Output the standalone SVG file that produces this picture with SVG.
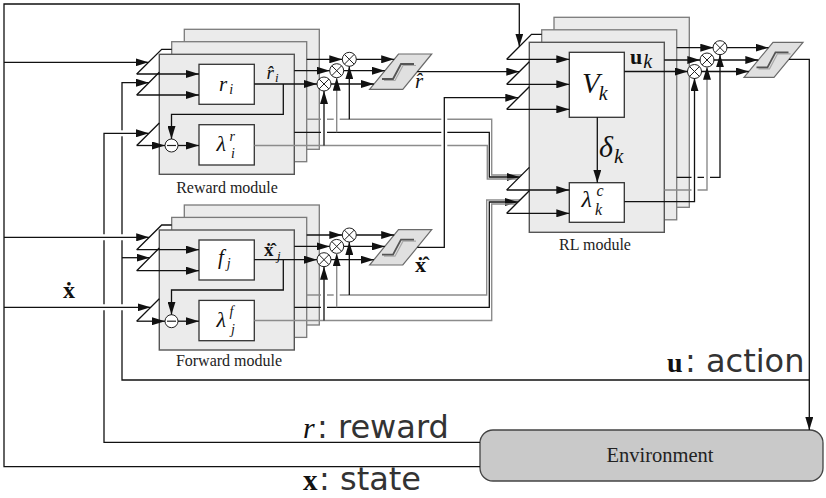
<svg xmlns="http://www.w3.org/2000/svg" width="826" height="498" viewBox="0 0 826 498">
<defs>
<style>
.k{fill:none;stroke:#111;stroke-width:1.3}
.g{fill:none;stroke:#8c8c8c;stroke-width:1.4}
.a{marker-end:url(#ah)}
.h{fill:none;stroke:#fff;stroke-width:6}
.bk{fill:#ebebeb;stroke:#7a7a7a;stroke-width:1.3}
.fr{fill:#ebebeb;stroke:#555;stroke-width:1.4}
.ib{fill:#fff;stroke:#333;stroke-width:1.3}
.sg{fill:#e0e0e0;stroke:#6a6a6a;stroke-width:1.2}
.st{fill:none;stroke:#555;stroke-width:1.8}
.st2{fill:none;stroke:#a8a8a8;stroke-width:1.2}
.m{font-family:"Liberation Serif","DejaVu Serif",serif;font-style:italic;fill:#111}
.mb{font-family:"Liberation Serif","DejaVu Serif",serif;font-weight:bold;fill:#111}
.lbl{font-family:"Liberation Serif","DejaVu Serif",serif;font-size:16px;fill:#222;text-anchor:middle}
.sans{font-family:"DejaVu Sans","Liberation Sans",sans-serif;font-size:32px;fill:#333}
</style>
<marker id="ah" markerWidth="13" markerHeight="8" refX="13" refY="4" orient="auto" markerUnits="userSpaceOnUse"><path d="M0,0L13,4L0,8z" fill="#111"/></marker>
<g id="mul"><circle r="7" fill="#fff" stroke="#222" stroke-width="1"/><path d="M-4.9,-4.9L4.9,4.9M-4.9,4.9L4.9,-4.9" stroke="#222" stroke-width="1"/></g>
<g id="sub"><circle r="6.5" fill="#fff" stroke="#222" stroke-width="1"/><path d="M-4.5,0H4.5" stroke="#222" stroke-width="1.2"/></g>
</defs>
<rect width="826" height="498" fill="#fff"/>

<!-- Reward module -->
<g id="reward-module">
<rect class="bk" x="184.3" y="29.3" width="135" height="120"/>
<rect class="bk" x="171.7" y="41.7" width="135" height="120"/>
<rect class="fr" x="159.3" y="54.3" width="135" height="120"/>
<text class="lbl" x="227" y="192.5">Reward module</text>
<text class="m" x="266.5" y="78.5" font-size="19">r̂<tspan font-size="13" dy="3.5" dx="1">i</tspan></text>
</g>
<g id="r-i"><rect class="ib" x="199" y="64.3" width="55.3" height="40"/><text class="m" x="219" y="90.5" font-size="21">r<tspan font-size="14" dy="3" dx="2">i</tspan></text></g>
<g id="lambda-r"><rect class="ib" x="199" y="124.7" width="55.3" height="40.3"/><text class="m" x="216.5" y="150.5" font-size="22">λ</text><text class="m" x="229.5" y="141" font-size="14">r</text><text class="m" x="231" y="158" font-size="14">i</text></g>
<g id="sub-r"><use href="#sub" x="171.5" y="145.5"/></g>
<g id="mul-r"><use href="#mul" x="349.3" y="59.3"/><use href="#mul" x="336.7" y="70.7"/><use href="#mul" x="324" y="84"/></g>
<g id="sum-r"><polygon class="sg" points="398.5,54 431.7,54 402.8,89.3 369.6,89.3"/><polyline class="st2" points="384,80.5 395,80.5 403,65.5 416,65.5"/><polyline class="st" points="382,79 393,79 401,64 414,64"/><text class="m" x="415" y="88" font-size="21">r̂</text></g>

<!-- Forward module -->
<g id="forward-module">
<rect class="bk" x="184.3" y="205" width="135" height="120"/>
<rect class="bk" x="171.7" y="217.4" width="135" height="120"/>
<rect class="fr" x="159.3" y="230" width="135" height="120"/>
<text class="lbl" x="229" y="365.5">Forward module</text>
<text class="mb" x="264" y="256" font-size="19">ẋ̂</text><text class="m" x="277" y="260" font-size="13">j</text>
</g>
<g id="f-j"><rect class="ib" x="199" y="240" width="55.3" height="40"/><text class="m" x="218" y="264" font-size="21">f<tspan font-size="14" dy="4" dx="3">j</tspan></text></g>
<g id="lambda-f"><rect class="ib" x="199" y="300.4" width="55.3" height="40.3"/><text class="m" x="216.5" y="326.5" font-size="22">λ</text><text class="m" x="229.5" y="316" font-size="14">f</text><text class="m" x="231" y="334" font-size="14">j</text></g>
<g id="sub-f"><use href="#sub" x="171.5" y="321.2"/></g>
<g id="mul-f"><use href="#mul" x="349.3" y="235"/><use href="#mul" x="336.7" y="246.4"/><use href="#mul" x="324" y="259.7"/></g>
<g id="sum-f"><polygon class="sg" points="398.5,229.7 431.7,229.7 402.8,265 369.6,265"/><polyline class="st2" points="384,256.2 395,256.2 403,241.2 416,241.2"/><polyline class="st" points="382,254.7 393,254.7 401,239.7 414,239.7"/><text class="mb" x="415" y="272" font-size="22">ẋ̂</text></g>

<!-- RL module -->
<g id="rl-module">
<rect class="bk" x="554" y="17.3" width="135.3" height="190"/>
<rect class="bk" x="541.7" y="29.8" width="135" height="190"/>
<rect class="fr" x="529.3" y="42.3" width="135" height="190"/>
<text class="lbl" x="595" y="250">RL module</text>
<text x="630" y="63.5"><tspan class="mb" font-size="22">u</tspan><tspan class="m" font-size="20" dy="4" dx="1">k</tspan></text>
<text class="m" x="599" y="156.5" font-size="30">δ<tspan font-size="21" dy="6" dx="1">k</tspan></text>
</g>
<g id="v-k"><rect class="ib" x="569.3" y="52.3" width="55" height="65"/><text class="m" x="582" y="93" font-size="29">V<tspan font-size="20" dy="7" dx="-1">k</tspan></text></g>
<g id="lambda-c"><rect class="ib" x="569.3" y="182.7" width="55" height="39.6"/><text class="m" x="581.5" y="207" font-size="24">λ</text><text class="m" x="596.5" y="196" font-size="16">c</text><text class="m" x="595" y="215" font-size="16">k</text></g>
<g id="mul-rl"><use href="#mul" x="720" y="47.7"/><use href="#mul" x="707" y="60"/><use href="#mul" x="694.5" y="71.5"/></g>
<g id="sum-rl"><polygon class="sg" points="773,42.3 803,42.3 774,77.3 744,77.3"/><polyline class="st2" points="758.5,68.8 769.5,68.8 777.5,53.8 790.5,53.8"/><polyline class="st" points="756.5,67.3 767.5,67.3 775.5,52.3 788.5,52.3"/></g>

<g id="environment"><rect x="480" y="430" width="343" height="51" rx="13" fill="#c9c9c9" stroke="#444" stroke-width="1.3"/><text x="660" y="462" font-family="Liberation Serif,DejaVu Serif,serif" font-size="20.5" fill="#222" text-anchor="middle">Environment</text></g>

<g id="signal-labels">
<text class="mb" x="63" y="298" font-size="24">ẋ</text>
<text class="mb" x="667" y="371.5" font-size="28">u</text><text class="sans" x="685" y="371.5">: action</text>
<text class="m" x="303" y="438.3" font-size="30">r</text><text class="sans" x="317" y="438.3">: reward</text>
<text class="mb" x="303" y="490" font-size="29">x</text><text class="sans" x="319" y="490" font-size="30">: state</text>
</g>

<g id="connectors">
<!-- state x -->
<path class="k a" d="M480,466.7H4V4H519.3V46.6"/>
<path class="k a" d="M4,62.3H148.5"/>
<!-- action u -->
<path class="k a" d="M788.9,59.3H809.3V430"/>
<path class="k a" d="M809.3,380H122V82.7H148.9"/>
<path class="k a" d="M122,257.7H149.6"/>
<path class="h" d="M118,133.3H126"/>
<!-- reward r -->
<path class="k a" d="M480,442.3H104V133.3H148.9"/>
<path class="h" d="M100,237.3H126M100,307.3H126"/>
<path class="k a" d="M4,237.3H149.2"/>
<path class="k a" d="M4,307.3H150.6"/>

<!-- reward module internals -->
<path class="k" d="M136.7,74L161.7,49.3H171.7M136.7,95L159.3,72.3M136.7,145.5L159.3,123"/>
<path class="k a" d="M136.7,74H199"/>
<path class="k a" d="M136.7,95H199"/>
<path class="k a" d="M136.7,145.5H165"/>
<path class="k a" d="M178,145.5H199"/>
<path class="k a" d="M283.3,84V114.3H171.5V139"/>
<path class="k a" d="M254.3,84H317"/>
<path class="k a" d="M294.3,70.7H329.7"/>
<path class="k a" d="M306.7,59.3H342.3"/>
<path class="g" d="M306.7,119.3H491.7V175H521.7"/>
<path class="k a" d="M294.3,132.3H489.3V177H519.7"/>
<path class="g" d="M254.3,145.5H487.3V179H517.7"/>
<path class="h" d="M324,115V136M336.7,115V123M444.3,115V149"/>
<path class="k a" d="M324,145.5V91"/>
<path class="g a" d="M336.7,132.3V77.7"/>
<path class="k a" d="M349.3,119.3V66.3"/>
<path class="k a" d="M356.3,59.3H394.2"/>
<path class="k a" d="M343.7,70.7H384.8"/>
<path class="k a" d="M331,84H373.9"/>
<path class="k a" d="M417.2,71.7H519.3"/>

<!-- forward module internals -->
<path class="k" d="M136.7,249.7L161.7,225H171.7M136.7,270.7L159.3,248M136.7,321.2L159.3,298.7"/>
<path class="k a" d="M136.7,249.7H199"/>
<path class="k a" d="M136.7,270.7H199"/>
<path class="k a" d="M136.7,321.2H165"/>
<path class="k a" d="M178,321.2H199"/>
<path class="k a" d="M283.3,259.7V290H171.5V314.7"/>
<path class="k a" d="M254.3,259.7H317"/>
<path class="k a" d="M294.3,246.4H329.7"/>
<path class="k a" d="M306.7,235H342.3"/>
<path class="g" d="M306.7,295H486.7V200H520"/>
<path class="k a" d="M294.3,307.3H489.3V202H518"/>
<path class="g" d="M254.3,320.5H491.7V204H516"/>
<path class="h" d="M324,291V311M336.7,291V299"/>
<path class="k a" d="M324,320.5V266.7"/>
<path class="g a" d="M336.7,307.3V253.4"/>
<path class="k a" d="M349.3,295V242"/>
<path class="k a" d="M356.3,235H394.2"/>
<path class="k a" d="M343.7,246.4H384.8"/>
<path class="k a" d="M331,259.7H373.9"/>
<path class="k a" d="M417.3,247.3H444.3V97.7H518.3"/>

<!-- RL module internals -->
<path class="k" d="M506.7,59.3L531.5,34.3H541.7M506.7,84.3L529.3,61.7M506.7,109.3L529.3,86.7M506.7,190L529.3,167.4M506.7,213.3L529.3,190.7"/>
<path class="k a" d="M506.7,59.3H569.3"/>
<path class="k a" d="M506.7,84.3H569.3"/>
<path class="k a" d="M506.7,109.3H569.3"/>
<path class="k a" d="M506.7,190H569.3"/>
<path class="k a" d="M506.7,213.3H569.3"/>
<path class="k a" d="M597.3,117.3V182.7"/>
<path class="k a" d="M624.3,71.5H687.8"/>
<path class="k a" d="M664.3,60H700.3"/>
<path class="k a" d="M676.7,47.7H713.3"/>
<path class="k a" d="M676.7,177.3H720V54.4"/>
<path class="h" d="M707,173V181"/>
<path class="g a" d="M664.3,190H707V66.7"/>
<path class="h" d="M694.5,173V194"/>
<path class="k a" d="M624.3,201.7H694.5V78.2"/>
<path class="k a" d="M726.7,47.7H768.5"/>
<path class="k a" d="M713.7,60H758.3"/>
<path class="k a" d="M701.2,71.5H748.8"/>
</g>
</svg>
